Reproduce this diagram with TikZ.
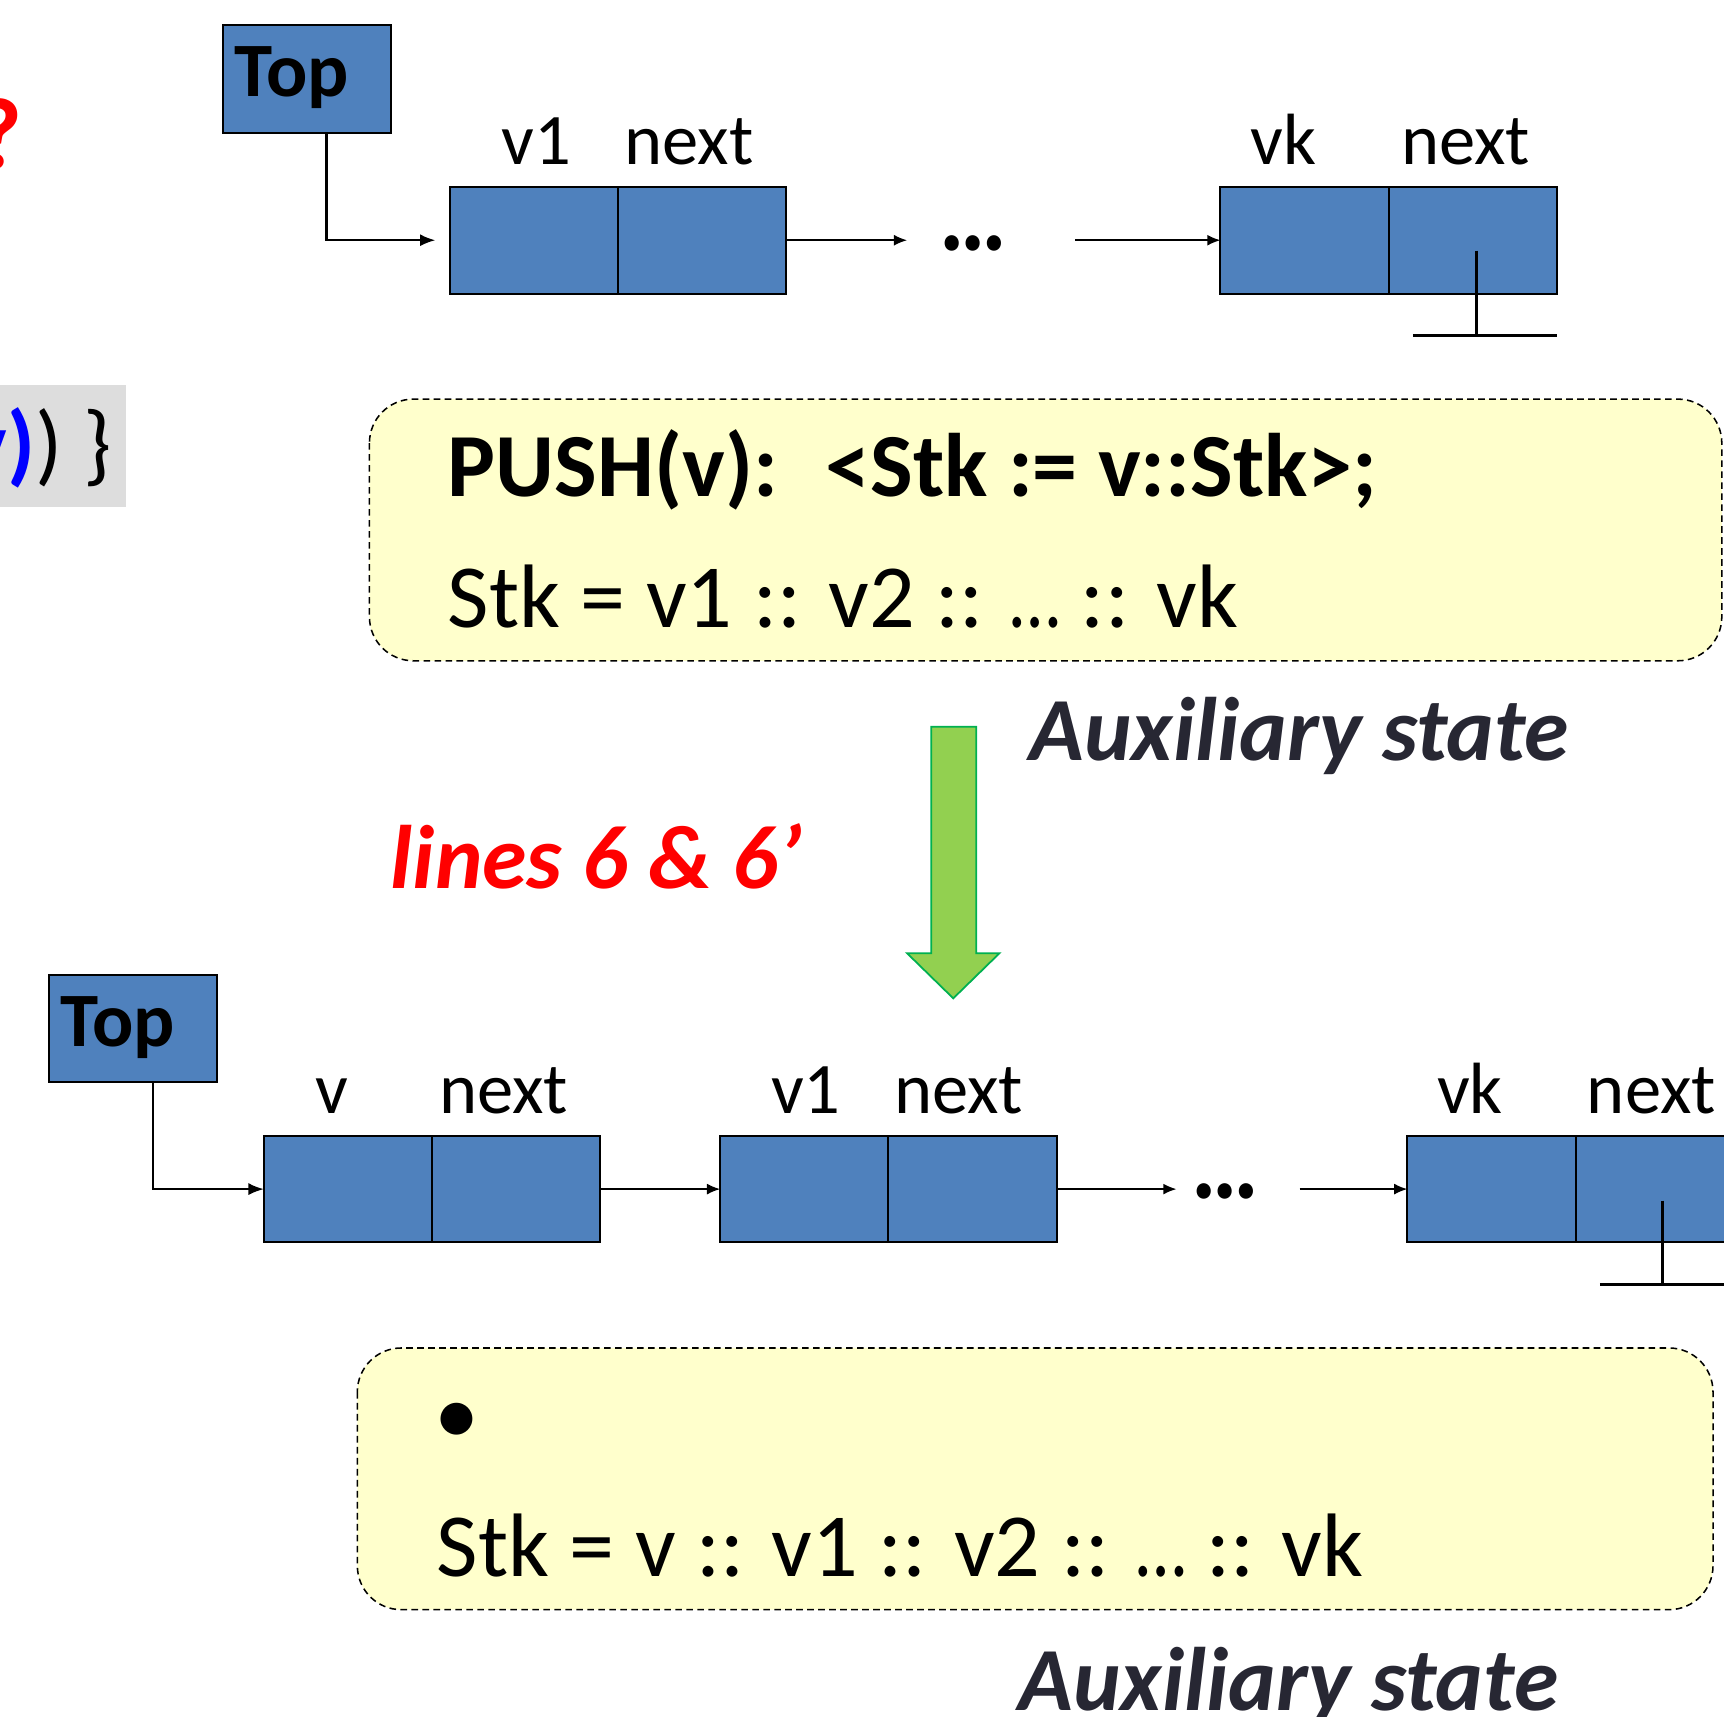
\documentclass[tikz,border=0pt]{standalone}
\usepackage{fontspec}
\usepackage{graphicx}
\setmainfont{Carlito}
\usetikzlibrary{arrows.meta}
\definecolor{cellblue}{HTML}{4F81BD}
\definecolor{noteyellow}{HTML}{FFFFCC}
\definecolor{auxgray}{HTML}{272733}
\definecolor{codegray}{HTML}{DDDDDD}
\definecolor{arrowfill}{HTML}{92D050}
\definecolor{arrowline}{HTML}{00B050}
\definecolor{hotred}{HTML}{FF0000}
\definecolor{codeblue}{HTML}{0000FF}
\newcommand{\tightdots}{\scalebox{0.8}[1]{…}}
\newcommand{\listdots}{\scalebox{0.9}[1]{…}}
\tikzset{
  cell/.style={draw=black, line width=0.9pt, fill=cellblue, minimum width=76.5pt, minimum height=48.5pt, inner sep=0pt, outer sep=0pt},
  topbox/.style={draw=black, line width=0.9pt, fill=cellblue, minimum width=76.5pt, minimum height=49pt, inner sep=0pt, outer sep=0pt},
  lbl/.style={inner sep=0pt, anchor=base, font=\fontsize{33}{40}\selectfont},
  toptxt/.style={inner sep=0pt, anchor=base west, font=\bfseries\fontsize{35}{40}\selectfont},
  dotstxt/.style={inner sep=0pt, font=\bfseries\fontsize{48}{52}\selectfont},
  link/.style={line width=0.75pt, -{Latex[length=6pt,width=5pt]}},
  ptr/.style={line width=1pt, -{Latex[length=7pt,width=5.5pt]}},
  gnd/.style={line width=1.5pt},
  note/.style={draw=black, line width=0.7pt, dash pattern=on 3pt off 2pt, fill=noteyellow, rounded corners=20pt},
  bigtxt/.style={inner sep=0pt, anchor=base west, font=\fontsize{41}{49}\selectfont},
  auxtxt/.style={inner sep=0pt, anchor=base west, text=auxgray, font=\bfseries\itshape\fontsize{41}{49}\selectfont},
}
\begin{document}
\begin{tikzpicture}[x=0.5pt,y=-0.5pt]
\useasboundingbox (0,0) rectangle (1568,1561);
\clip (0,0) rectangle (1568,1561);

% left fragments
\node[inner sep=0pt, anchor=base east, text=hotred, font=\bfseries\fontsize{46}{50}\selectfont] (qmark) at (21,153) {?};
\fill[codegray] (0,350) rectangle (115,461);
\node[inner sep=0pt, anchor=base east, font=\fontsize{41}{49}\selectfont] (codefrag) at (102,432) {{\color{codeblue}\bfseries v)})~\}};

% ---------- top list ----------
\node[topbox] (top1) at (279.5,72) {};
\node[toptxt] (top1t) at (213,88) {Top};
\node[cell] (l1a) at (485.5,218.5) {};
\node[cell] (l1b) at (638.5,218.5) {};
\node[dotstxt] (dots1) at (885,221) {\listdots};
\node[cell] (l1ka) at (1186.5,218.5) {};
\node[cell] (l1kb) at (1339.5,218.5) {};
\node[lbl] (t1v) at (487.5,150) {v1};
\node[lbl] (t1n) at (627,150) {next};
\node[lbl] (t1vk) at (1167.5,150) {vk};
\node[lbl] (t1nk) at (1333,150) {next};

\coordinate (d1in) at ([xshift=-30pt]dots1.center);
\coordinate (d1out) at ([xshift=46.5pt]dots1.center);
\draw[ptr, shorten >=6.5pt] ([xshift=8.75pt]top1.south) |- (l1a.west);
\draw[link] (l1b.east) -- (l1b.east -| d1in);
\draw[link] (l1ka.west -| d1out) -- (l1ka.west);
\coordinate (g1a) at (1343,228);
\coordinate (g1b) at (1343,305);
\coordinate (g1l) at (1285,305);
\coordinate (g1r) at (1416,305);
\draw[gnd] (g1a) -- (g1b);
\draw[gnd] (g1l) -- (g1r);

% ---------- first note ----------
\path[note] (336,363) rectangle (1566,601);
\node[bigtxt, font=\bfseries\fontsize{41}{49}\selectfont] (push) at (407,452) {PUSH(v):~ <Stk := v::Stk>;};
\node[bigtxt] (stk1) at (407,571) {Stk = v1 :: v2 :: \tightdots{} :: vk};
\node[auxtxt] (aux1) at (936,692) {Auxiliary state};

% ---------- green arrow ----------
\draw[fill=arrowfill, draw=arrowline, line width=0.8pt, line join=miter]
  (847,661) -- (888,661) -- (888,867) -- (909,867) -- (867,908) -- (825,867) -- (847,867) -- cycle;
\node[inner sep=0pt, anchor=base west, text=hotred, font=\bfseries\itshape\fontsize{41}{49}\selectfont] (lines) at (355,808) {lines 6 \& 6’};

% ---------- bottom list ----------
\node[topbox, minimum width=76pt] (top2) at (121,935.5) {};
\node[toptxt] (top2t) at (55,952) {Top};
\node[cell] (l2a) at (316.5,1081.5) {};
\node[cell] (l2b) at (469.5,1081.5) {};
\node[cell] (l2c) at (731.5,1081.5) {};
\node[cell] (l2d) at (884.5,1081.5) {};
\node[dotstxt] (dots2) at (1114.5,1084) {\listdots};
\node[cell] (l2ka) at (1356.5,1081.5) {};
\node[cell] (l2kb) at (1509.5,1081.5) {};
\node[lbl] (t2v) at (302,1013) {v};
\node[lbl] (t2n) at (458,1013) {next};
\node[lbl] (t2v1) at (733,1013) {v1};
\node[lbl] (t2n1) at (872,1013) {next};
\node[lbl] (t2vk) at (1337,1013) {vk};
\node[lbl] (t2nk) at (1502,1013) {next};

\coordinate (d2in) at ([xshift=-22.25pt]dots2.center);
\coordinate (d2out) at ([xshift=33.75pt]dots2.center);
\draw[ptr] ([xshift=9pt]top2.south) |- (l2a.west);
\draw[link] (l2b.east) -- (l2c.west);
\draw[link] (l2d.east) -- (l2d.east -| d2in);
\draw[link] (l2ka.west -| d2out) -- (l2ka.west);
\coordinate (g2a) at (1512,1092);
\coordinate (g2b) at (1512,1168);
\coordinate (g2l) at (1455,1168);
\coordinate (g2r) at (1586,1168);
\draw[gnd] (g2a) -- (g2b);
\draw[gnd] (g2l) -- (g2r);

% ---------- second note ----------
\path[note] (325,1226) rectangle (1558,1464);
\node[bigtxt] (bullet) at (395,1314) {•};
\node[bigtxt] (stk2) at (397,1434) {Stk = v :: v1 :: v2 :: \tightdots{} :: vk};
\node[auxtxt] (aux2) at (926,1556) {Auxiliary state};
\end{tikzpicture}
\end{document}
